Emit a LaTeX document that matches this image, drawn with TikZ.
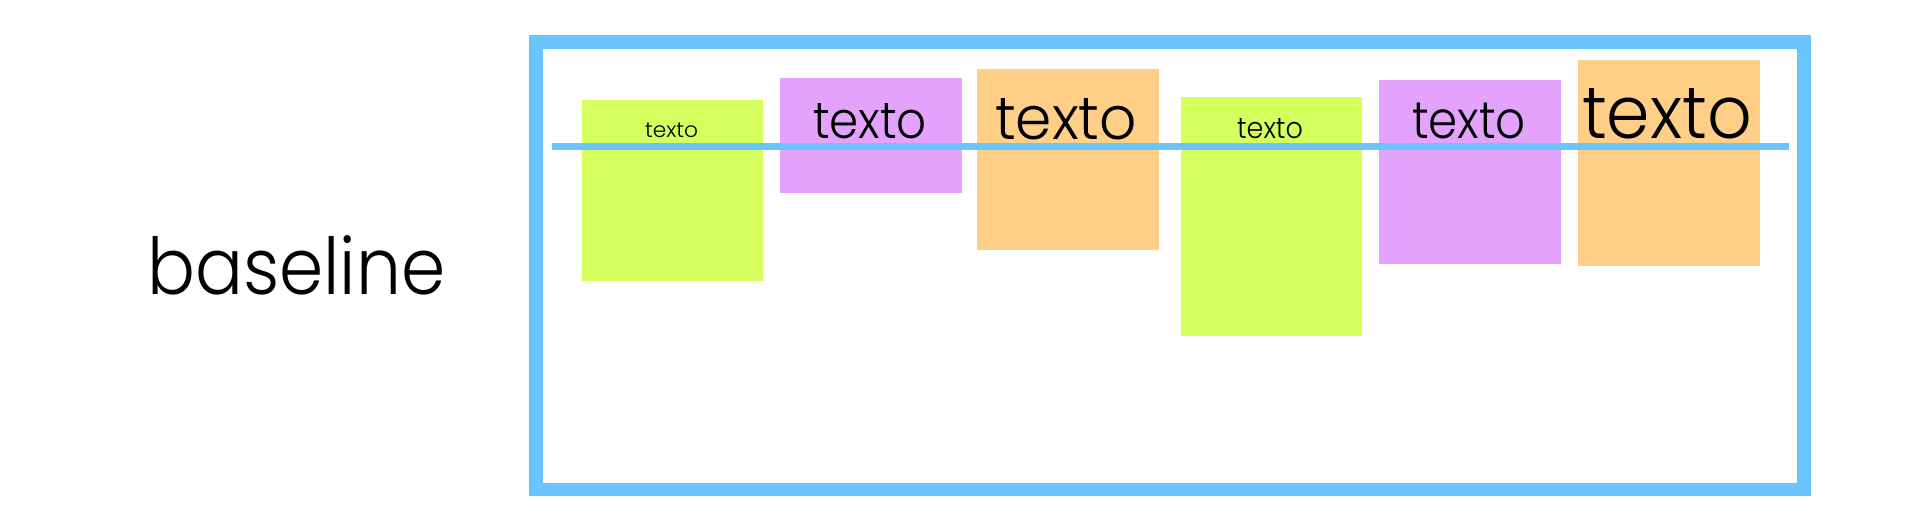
\documentclass[tikz,border=0pt]{standalone}
\usepackage{fontspec}
\setmainfont{Poppins Light}
\definecolor{framec}{RGB}{106,197,254}
\definecolor{greenc}{RGB}{212,255,92}
\definecolor{purplec}{RGB}{227,163,253}
\definecolor{orangec}{RGB}{255,207,136}
\tikzset{
  boxg/.style={fill=greenc},
  boxp/.style={fill=purplec},
  boxo/.style={fill=orangec},
  lbl/.style={anchor=base, inner sep=0pt, text=black},
}
\newcommand{\tw}[2]{\resizebox{#1pt}{#2pt}{texto}}
\begin{document}
\begin{tikzpicture}[x=1pt,y=-1pt]
\useasboundingbox (0,0) rectangle (1922,530);
% boxes
\fill[boxg] (582,100) rectangle (763,281);
\fill[boxp] (780,78) rectangle (962,193);
\fill[boxo] (977,69) rectangle (1159,250);
\fill[boxg] (1181,97) rectangle (1362,336);
\fill[boxp] (1379,80) rectangle (1561,264);
\fill[boxo] (1578,60) rectangle (1760,266);
% texts
\node[lbl] (t1) at (671.5,137.5) {\tw{53}{14.5}};
\node[lbl] (t2) at (870,138.5) {\tw{114}{35}};
\node[lbl] (t3) at (1066,139.5) {\tw{142}{41}};
\node[lbl] (t4) at (1270,138) {\tw{66}{20}};
\node[lbl] (t5) at (1469,138.5) {\tw{114}{35.5}};
\node[lbl] (t6) at (1667,138) {\tw{170}{50}};
% baseline line
\coordinate (bl) at (552,146.5);
\coordinate (br) at (1789,146.5);
\draw[framec, line width=7pt] (bl) -- (br);
% frame
\draw[framec, line width=13.5pt] (536,42) rectangle (1804,489.5);
% label
\node[anchor=base west, inner sep=0pt] (lab) at (147,294) {\resizebox{298pt}{59pt}{baseline}};
\end{tikzpicture}
\end{document}
